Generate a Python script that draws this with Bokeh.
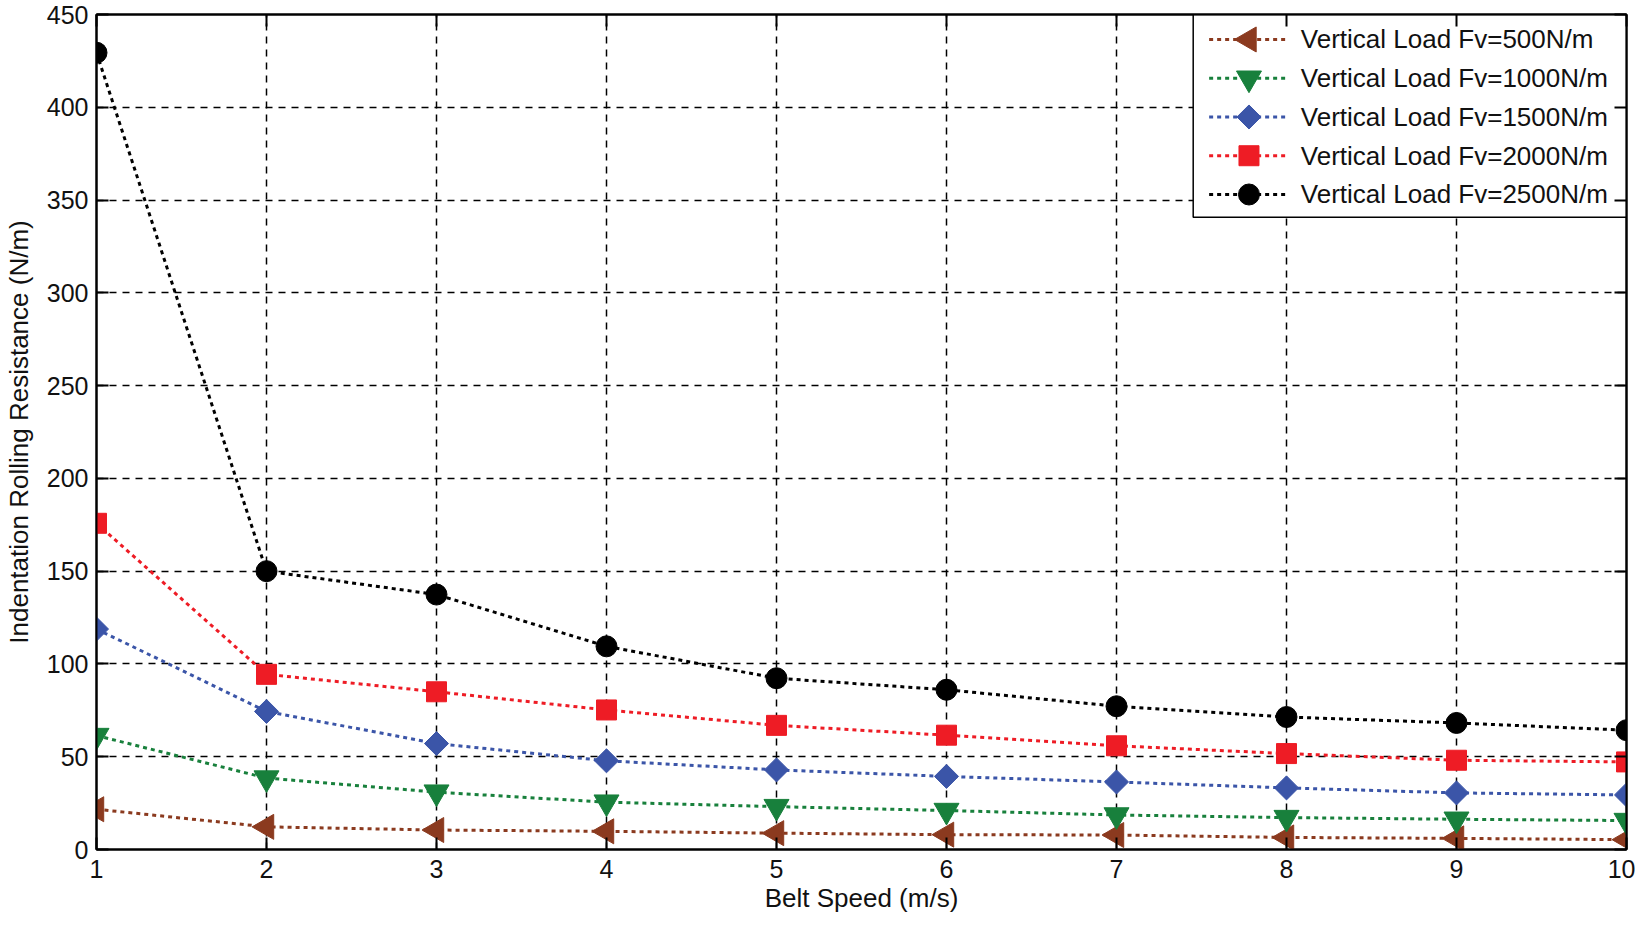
import math
from bokeh.plotting import figure
from bokeh.models import Range1d, LinearAxis, FixedTicker
from bokeh.core.properties import value
from bokeh.embed import file_html
from bokeh.resources import INLINE

# ---- data ----
belt_speed = [1, 2, 3, 4, 5, 6, 7, 8, 9, 10]
fv500 = [21.7, 12.2, 10.5, 9.8, 8.8, 8.0, 7.8, 6.5, 6.0, 5.3]
fv1000 = [61.4, 38.5, 30.9, 25.5, 23.1, 21.0, 18.6, 17.2, 16.3, 15.6]
fv1500 = [118.8, 74.4, 57.1, 47.8, 42.9, 39.4, 36.4, 33.2, 30.5, 29.4]
fv2000 = [175.8, 94.4, 85.0, 75.2, 66.9, 61.6, 55.9, 51.7, 48.1, 47.2]
fv2500 = [429.4, 150.0, 137.4, 109.5, 92.3, 86.1, 77.2, 71.4, 68.2, 64.3]
series_labels = [
    "Vertical Load Fv=500N/m",
    "Vertical Load Fv=1000N/m",
    "Vertical Load Fv=1500N/m",
    "Vertical Load Fv=2000N/m",
    "Vertical Load Fv=2500N/m",
]
x_ticks = [1, 2, 3, 4, 5, 6, 7, 8, 9, 10]
y_ticks = [0, 50, 100, 150, 200, 250, 300, 350, 400, 450]

FONT = "Liberation Sans"
FS = "26px"
FS_TICK = "25px"
TXT = "#111111"

# layout (pixels)
FIG_W, FIG_H = 1635, 915
B_LEFT, B_RIGHT, B_TOP, B_BOTTOM = 90, 9, 14, 65
FRAME_W = FIG_W - B_LEFT - B_RIGHT
FRAME_H = FIG_H - B_TOP - B_BOTTOM
X0, X1, Y0, Y1 = 1, 10, 0, 450

# legend box geometry in pixels, measured from the frame's top-right corner
LG_W, LG_H = 435, 203
LG_LINE_L, LG_LINE_R, LG_SYM, LG_TXT = 16, 96, 56, 108
LG_ROW0, LG_ROW_STEP = 25, 38.8

p = figure(width=FIG_W, height=FIG_H, output_backend="svg", toolbar_location=None,
           x_range=Range1d(X0, X1), y_range=Range1d(Y0, Y1),
           min_border_left=B_LEFT, min_border_right=B_RIGHT, min_border_top=B_TOP,
           min_border_bottom=B_BOTTOM)
p.background_fill_color = "white"
p.border_fill_color = "white"
p.outline_line_color = "black"
p.outline_line_width = 2

def style_axis(ax, show_labels=True):
    ax.axis_line_color = "black"
    ax.axis_line_width = 2
    ax.major_tick_in = 12
    ax.major_tick_out = 0
    ax.major_tick_line_width = 2
    ax.major_tick_line_color = "black"
    ax.minor_tick_line_color = None
    ax.major_label_text_font = FONT
    ax.axis_label_text_font = FONT
    ax.axis_label_text_font_size = FS
    ax.axis_label_text_font_style = "normal"
    ax.axis_label_text_color = TXT
    if show_labels:
        ax.major_label_text_font_size = FS_TICK
        ax.major_label_text_color = TXT
    else:
        ax.major_label_text_font_size = "1px"
        ax.major_label_text_color = None
        ax.major_label_standoff = 0

xax = p.xaxis[0]
yax = p.yaxis[0]
xax.ticker = FixedTicker(ticks=x_ticks)
yax.ticker = FixedTicker(ticks=y_ticks)
style_axis(xax)
style_axis(yax)
xax.axis_label = "Belt Speed (m/s)"
yax.axis_label = "Indentation Rolling Resistance (N/m)"
xax.major_label_standoff = 10
xax.axis_label_standoff = 2
yax.major_label_standoff = 8
yax.axis_label_standoff = 10

top_ax = LinearAxis(ticker=FixedTicker(ticks=x_ticks),
                    major_label_overrides={t: "" for t in x_ticks})
right_ax = LinearAxis(ticker=FixedTicker(ticks=y_ticks),
                      major_label_overrides={t: "" for t in y_ticks})
style_axis(top_ax, False)
style_axis(right_ax, False)
p.add_layout(top_ax, "above")
p.add_layout(right_ax, "right")

for g in (p.xgrid[0], p.ygrid[0]):
    g.grid_line_color = "black"
    g.grid_line_width = 1.5
    g.grid_line_dash = "7 6"
    g.grid_line_alpha = 1.0
p.xgrid[0].ticker = FixedTicker(ticks=x_ticks)
p.ygrid[0].ticker = FixedTicker(ticks=y_ticks)

series = [
    (fv500, "#8B3A1F", "triangle", 25, math.pi / 2),
    (fv1000, "#18803C", "inverted_triangle", 25, 0.0),
    (fv1500, "#3B55A8", "square", 17, math.pi / 4),
    (fv2000, "#EE1C25", "square", 20, 0.0),
    (fv2500, "#000000", "circle", 21, 0.0),
]

for vals, color, marker, size, ang in series:
    p.line(belt_speed, vals, line_color=color, line_width=3, line_dash="4 4")
    p.scatter(belt_speed, vals, marker=marker, size=size, angle=ang,
              fill_color=color, line_color=color, line_width=1)

# ---- legend, drawn by hand so that its symbols match the plotted markers ----
dx = (X1 - X0) / FRAME_W   # data units per pixel
dy = (Y1 - Y0) / FRAME_H
def lx(px_from_box_left):
    return X1 - (LG_W - px_from_box_left) * dx
def ly(px_from_top):
    return Y1 - px_from_top * dy

p.quad(left=[lx(0)], right=[X1], top=[Y1], bottom=[ly(LG_H)],
       fill_color="white", line_color="black", line_width=1.5)
row_y = [ly(LG_ROW0 + i * LG_ROW_STEP) for i in range(len(series))]
for i, (vals, color, marker, size, ang) in enumerate(series):
    p.line([lx(LG_LINE_L), lx(LG_LINE_R)], [row_y[i], row_y[i]],
           line_color=color, line_width=3, line_dash="4 4")
    p.scatter([lx(LG_SYM)], [row_y[i]], marker=marker, size=size, angle=ang,
              fill_color=color, line_color=color, line_width=1)
p.text(x=[lx(LG_TXT)] * len(series_labels), y=row_y, text=series_labels,
       text_font=value(FONT), text_font_size=FS, text_color=TXT,
       text_align="left", text_baseline="middle")

open("out.html", "w").write(file_html(p, INLINE))
